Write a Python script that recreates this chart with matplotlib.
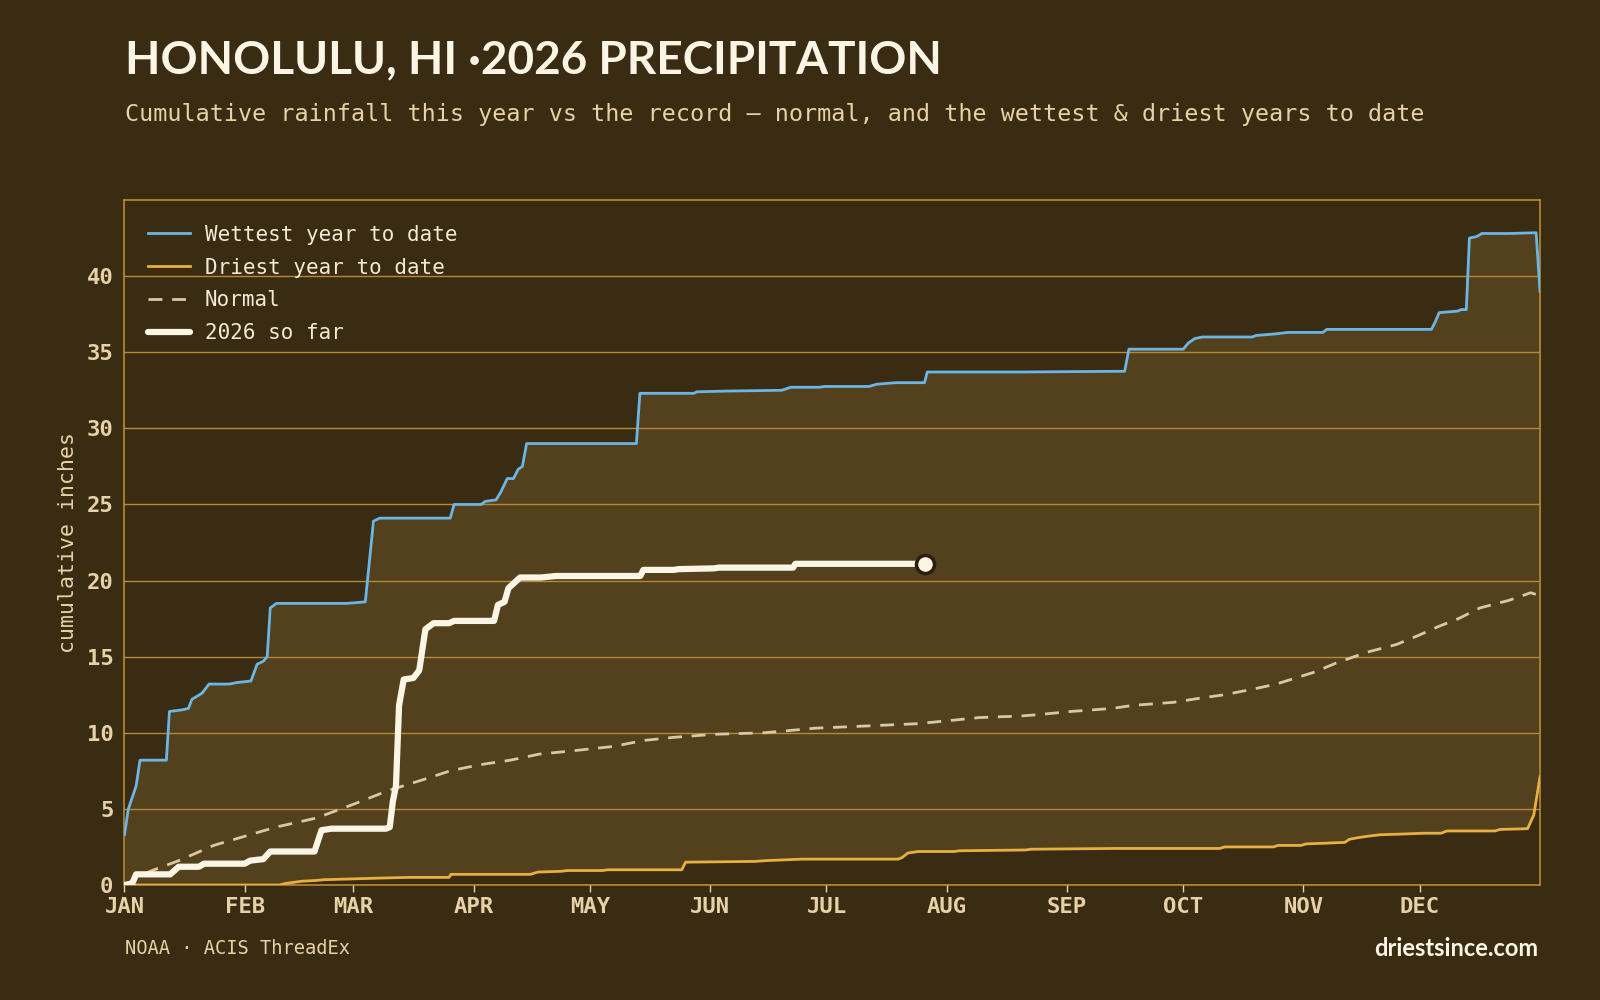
import numpy as np
import matplotlib
matplotlib.use("Agg")
import matplotlib.pyplot as plt

# colours
BG = "#3a2b13"
FILL = "#53401d"
GRID = "#b88a35"
TXT = "#e6d2a6"
WET_C = "#6cb6e6"
DRY_C = "#e8b040"
NORM_C = "#d8c8a4"
NOW_C = "#fbf5e6"

# month ticks (day of year)
months = ["JAN", "FEB", "MAR", "APR", "MAY", "JUN", "JUL", "AUG", "SEP", "OCT", "NOV", "DEC"]
month_days = [0, 31, 59, 90, 120, 151, 181, 212, 243, 273, 304, 334]

# wettest year to date (day, inches)
wet_day = [0, 1, 3, 4, 10.8, 11.6, 14.7, 16.5, 17.4, 20, 21.8, 27, 29, 32.6, 34.2, 35.8, 36.8,
           37.6, 39.2, 57.4, 62.1, 64.2, 65.8, 84, 85, 92, 93, 95.8, 97, 98.7, 100.3, 101.5,
           102.6, 103.7, 132, 132.9, 146.8, 147.6, 155.8, 169.5, 171.8, 179.2, 180.5, 192,
           194, 199, 206.3, 207, 231, 257.9, 259, 273, 274.3, 276, 278, 290.8, 291.8, 296.6,
           300, 309, 310, 337, 338, 339, 343.7, 344.7, 346, 346.8, 348.7, 350, 357, 364, 365]
wet_val = [3.3, 5.0, 6.5, 8.2, 8.2, 11.4, 11.5, 11.6, 12.2, 12.6, 13.2, 13.2, 13.3, 13.4, 14.5,
           14.7, 15.0, 18.2, 18.5, 18.5, 18.6, 23.9, 24.1, 24.1, 25.0, 25.0, 25.2, 25.3, 25.8,
           26.7, 26.7, 27.3, 27.5, 29.0, 29.0, 32.3, 32.3, 32.4, 32.45, 32.5, 32.7, 32.7,
           32.75, 32.75, 32.9, 33.0, 33.0, 33.7, 33.7, 33.75, 35.2, 35.2, 35.6, 35.9, 36.0,
           36.0, 36.1, 36.2, 36.3, 36.3, 36.5, 36.5, 37.0, 37.6, 37.7, 37.8, 37.8, 42.5, 42.6,
           42.8, 42.8, 42.85, 39.0]

# driest year to date
dry_day = [0, 40, 41.5, 45.8, 49.5, 51.6, 58.7, 65.3, 73.2, 83.7, 84.2, 104.7, 106.6, 112.6,
           114.2, 123.2, 124.7, 143.7, 144.7, 162.6, 165.3, 174.7, 199.5, 200.5, 202, 204.7,
           214, 215.3, 232.4, 233.7, 255.3, 282.4, 283.7, 296.3, 297.4, 303.4, 304.7, 310,
           314.7, 315.8, 317.9, 320.5, 323.7, 329.7, 335, 339.5, 341, 353.4, 354.7, 361.8,
           363.4, 365]
dry_val = [0, 0, 0.1, 0.25, 0.3, 0.35, 0.4, 0.45, 0.5, 0.5, 0.7, 0.7, 0.85, 0.9, 0.95, 0.95,
           1.0, 1.0, 1.5, 1.55, 1.6, 1.7, 1.7, 1.8, 2.1, 2.2, 2.2, 2.25, 2.3, 2.35, 2.4, 2.4,
           2.5, 2.5, 2.6, 2.6, 2.7, 2.75, 2.8, 3.0, 3.1, 3.2, 3.3, 3.35, 3.4, 3.4, 3.55, 3.55,
           3.65, 3.7, 4.6, 7.1]

# normal
norm_day = [0, 6.6, 14, 23, 31, 39, 49.5, 59, 68, 73, 78, 84, 91.6, 99.5, 107, 115, 126, 134,
            141.6, 152, 165, 178, 191.6, 204.7, 212.6, 220.5, 231, 236, 244, 254.7, 260, 270.5,
            278, 283.7, 291.6, 297, 302, 307, 312.6, 320.5, 328, 333.7, 339, 344, 349.5, 357,
            362.6, 365]
norm_val = [0, 0.9, 1.6, 2.6, 3.2, 3.8, 4.4, 5.3, 6.2, 6.6, 7.0, 7.5, 7.9, 8.2, 8.6, 8.8, 9.1,
            9.5, 9.7, 9.9, 10.0, 10.3, 10.45, 10.6, 10.8, 11.0, 11.1, 11.2, 11.4, 11.6, 11.8,
            12.0, 12.3, 12.5, 12.9, 13.2, 13.6, 14.0, 14.6, 15.3, 15.8, 16.4, 17.0, 17.5, 18.2,
            18.7, 19.2, 19.0]

# 2026 so far
now_day = [0, 2, 3, 11.8, 14, 19.2, 20.5, 31, 32.4, 35.8, 37.6, 49, 50.8, 53.4, 67.4, 68.4,
           69.2, 70, 70.8, 72, 74.5, 76, 77.6, 79.7, 83.7, 85, 95.3, 96.3, 98, 99, 100.3, 102,
           107.4, 111.3, 133, 133.8, 141.6, 142.9, 152, 153.3, 172.4, 173, 206.3]
now_val = [0, 0.1, 0.7, 0.7, 1.2, 1.2, 1.4, 1.4, 1.6, 1.7, 2.2, 2.2, 3.6, 3.7, 3.7, 3.8, 5.5,
           6.5, 11.8, 13.5, 13.6, 14.1, 16.8, 17.2, 17.2, 17.35, 17.35, 18.4, 18.6, 19.5, 19.8,
           20.2, 20.2, 20.3, 20.3, 20.7, 20.7, 20.75, 20.8, 20.85, 20.85, 21.1, 21.1]

plt.rcParams["font.family"] = ["DejaVu Sans Mono"]

fig = plt.figure(figsize=(16, 10), dpi=100, facecolor=BG)
ax = fig.add_axes([0.0778, 0.115, 0.8847, 0.685], facecolor=BG)

# band between driest and wettest
days = np.arange(0, 366)
wet_i = np.interp(days, wet_day, wet_val)
dry_i = np.interp(days, dry_day, dry_val)
ax.fill_between(days, dry_i, wet_i, color=FILL, lw=0, zorder=1)

ax.grid(axis="y", color=GRID, lw=1, zorder=2)
ax.set_axisbelow(False)

ax.plot(wet_day, wet_val, color=WET_C, lw=2, label="Wettest year to date", zorder=3)
ax.plot(dry_day, dry_val, color=DRY_C, lw=2, label="Driest year to date", zorder=3)
ax.plot(norm_day, norm_val, color=NORM_C, lw=2, ls=(0, (5, 3.5)), label="Normal", zorder=3)
ax.plot(now_day, now_val, color=NOW_C, lw=4.5, label="2026 so far", zorder=4,
        solid_joinstyle="round", solid_capstyle="round")
ax.plot(now_day[-1], now_val[-1], "o", ms=13, mfc=NOW_C, mec="#2a1f0c", mew=2.5, zorder=5)

ax.set_xlim(0, 365)
ax.set_ylim(0, 45)
ax.set_xticks(month_days)
ax.set_xticklabels(months)
ax.set_yticks(range(0, 45, 5))
ax.tick_params(colors=TXT, labelsize=16, length=5, width=1)
ax.tick_params(axis="y", length=0, pad=8)
for lab in ax.get_xticklabels() + ax.get_yticklabels():
    lab.set_fontweight("bold")
for s in ax.spines.values():
    s.set_color(GRID)
    s.set_linewidth(1.2)
ax.set_ylabel("cumulative inches", color=TXT, fontsize=15.5, labelpad=6)

leg = ax.legend(loc="upper left", frameon=False, fontsize=15, handlelength=2.0,
                handletextpad=0.7, labelspacing=0.62, borderaxespad=0.75,
                bbox_to_anchor=(0.0, 0.999))
for t in leg.get_texts():
    t.set_color("#f3ead6")

fig.text(0.078, 0.94, "HONOLULU, HI \u00b72026 PRECIPITATION", fontsize=33, fontweight="bold",
         color="#fbf5e6", family=["Lato", "DejaVu Sans"], va="center")
fig.text(0.078, 0.886, "Cumulative rainfall this year vs the record \u2014 normal, and the wettest & driest years to date",
         fontsize=16.85, color=TXT, va="center")
fig.text(0.078, 0.051, "NOAA \u00b7 ACIS ThreadEx", fontsize=13.5, color=TXT, va="center")
fig.text(0.9615, 0.051, "driestsince.com", fontsize=17, fontweight="bold", color="#fbf5e6",
         family=["Lato", "DejaVu Sans"], ha="right", va="center")

fig.savefig("out.png", dpi=100, facecolor=BG)
